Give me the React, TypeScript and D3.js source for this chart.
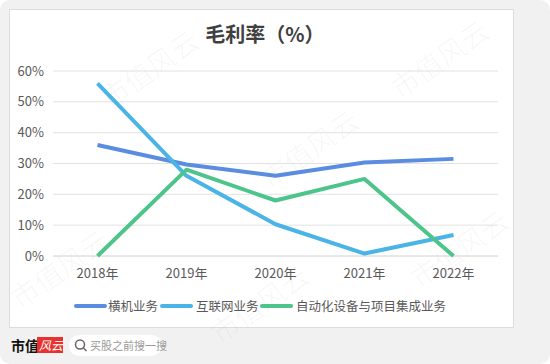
import React from "react";
import * as d3 from "d3";

const years = ["2018年", "2019年", "2020年", "2021年", "2022年"];
const seriesNames = ["横机业务", "互联网业务", "自动化设备与项目集成业务"];
const hengji = [36, 29.7, 26, 30.3, 31.5];
const hulianwang = [56, 26, 10.3, 0.8, 6.8];
const zidonghua = [0, 28, 18, 25, 0];
const yTicks = [0, 10, 20, 30, 40, 50, 60];
const colors = ["#5a8de0", "#4bb4e6", "#4cc48a"];

const W = 550, H = 364;
const FONT = "'Noto Sans CJK SC', 'Noto Sans', sans-serif";

export default function App() {
  const x = d3.scaleBand<string>().domain(years).range([53, 498]);
  const y = d3.scaleLinear().domain([0, 60]).range([256, 71]);
  const line = d3
    .line<number>()
    .x((_, i) => (x(years[i]) as number) + x.bandwidth() / 2)
    .y((d) => y(d));
  const data = [hengji, hulianwang, zidonghua];

  const legendItems = [
    { sx: 76, tx: 108 },
    { sx: 162, tx: 196 },
    { sx: 262, tx: 296 },
  ];

  const watermarks = [
    { x: 110, y: 110 }, { x: 400, y: 100 }, { x: 270, y: 190 },
    { x: 20, y: 310 }, { x: 220, y: 345 }, { x: 420, y: 290 },
  ];

  return (
    <svg width={W} height={H} style={{ position: "absolute", left: 0, top: 0, fontFamily: FONT }}>
      <rect x={0} y={0} width={W} height={H} rx={10} fill="#f1f1f1" />
      <rect x={9.5} y={9.5} width={504} height={318} fill="#ffffff" stroke="#dcdcdc" />
      {watermarks.map((w, i) => (
        <text key={i} x={w.x} y={w.y} fontSize={28} fill="#000" fillOpacity={0.03} transform={`rotate(-35 ${w.x} ${w.y})`}>
          市值风云
        </text>
      ))}
      <text x={265} y={42} textAnchor="middle" fontSize={20} fontWeight="bold" fill="#404040">
        毛利率（%）
      </text>
      {yTicks.map((t) => (
        <g key={t}>
          <line x1={53} x2={498} y1={y(t)} y2={y(t)} stroke={t === 0 ? "#d0d0d0" : "#e2e2e2"} strokeWidth={1} />
          <text x={44} y={y(t) + 4.5} textAnchor="end" fontSize={13} fill="#595959">
            {t}%
          </text>
        </g>
      ))}
      {years.map((yr) => (
        <text key={yr} x={(x(yr) as number) + x.bandwidth() / 2} y={278} textAnchor="middle" fontSize={13} fill="#595959">
          {yr}
        </text>
      ))}
      {data.map((d, i) => (
        <path key={i} d={line(d) || ""} fill="none" stroke={colors[i]} strokeWidth={4} strokeLinejoin="round" />
      ))}
      {seriesNames.map((n, i) => (
        <g key={n}>
          <line x1={legendItems[i].sx} x2={legendItems[i].sx + 29} y1={306} y2={306} stroke={colors[i]} strokeWidth={4} strokeLinecap="round" />
          <text x={legendItems[i].tx} y={310.5} fontSize={12.5} fill="#595959">
            {n}
          </text>
        </g>
      ))}
      {/* footer */}
      <text x={11} y={351} fontSize={14} fontWeight="bold" fill="#111">
        市值
      </text>
      <rect x={37} y={337} width={26} height={16} fill="#e8312f" />
      <text x={39} y={350} fontSize={12} fontStyle="italic" fill="#fff">
        风云
      </text>
      <rect x={69} y={335} width={93} height={21} rx={10.5} fill="#ffffff" />
      <circle cx={80} cy={344.5} r={4.5} fill="none" stroke="#666" strokeWidth={1.5} />
      <line x1={83.5} y1={348} x2={86.5} y2={351} stroke="#666" strokeWidth={1.5} />
      <text x={90} y={350} fontSize={11} fill="#9a9a9a">
        买股之前搜一搜
      </text>
    </svg>
  );
}
